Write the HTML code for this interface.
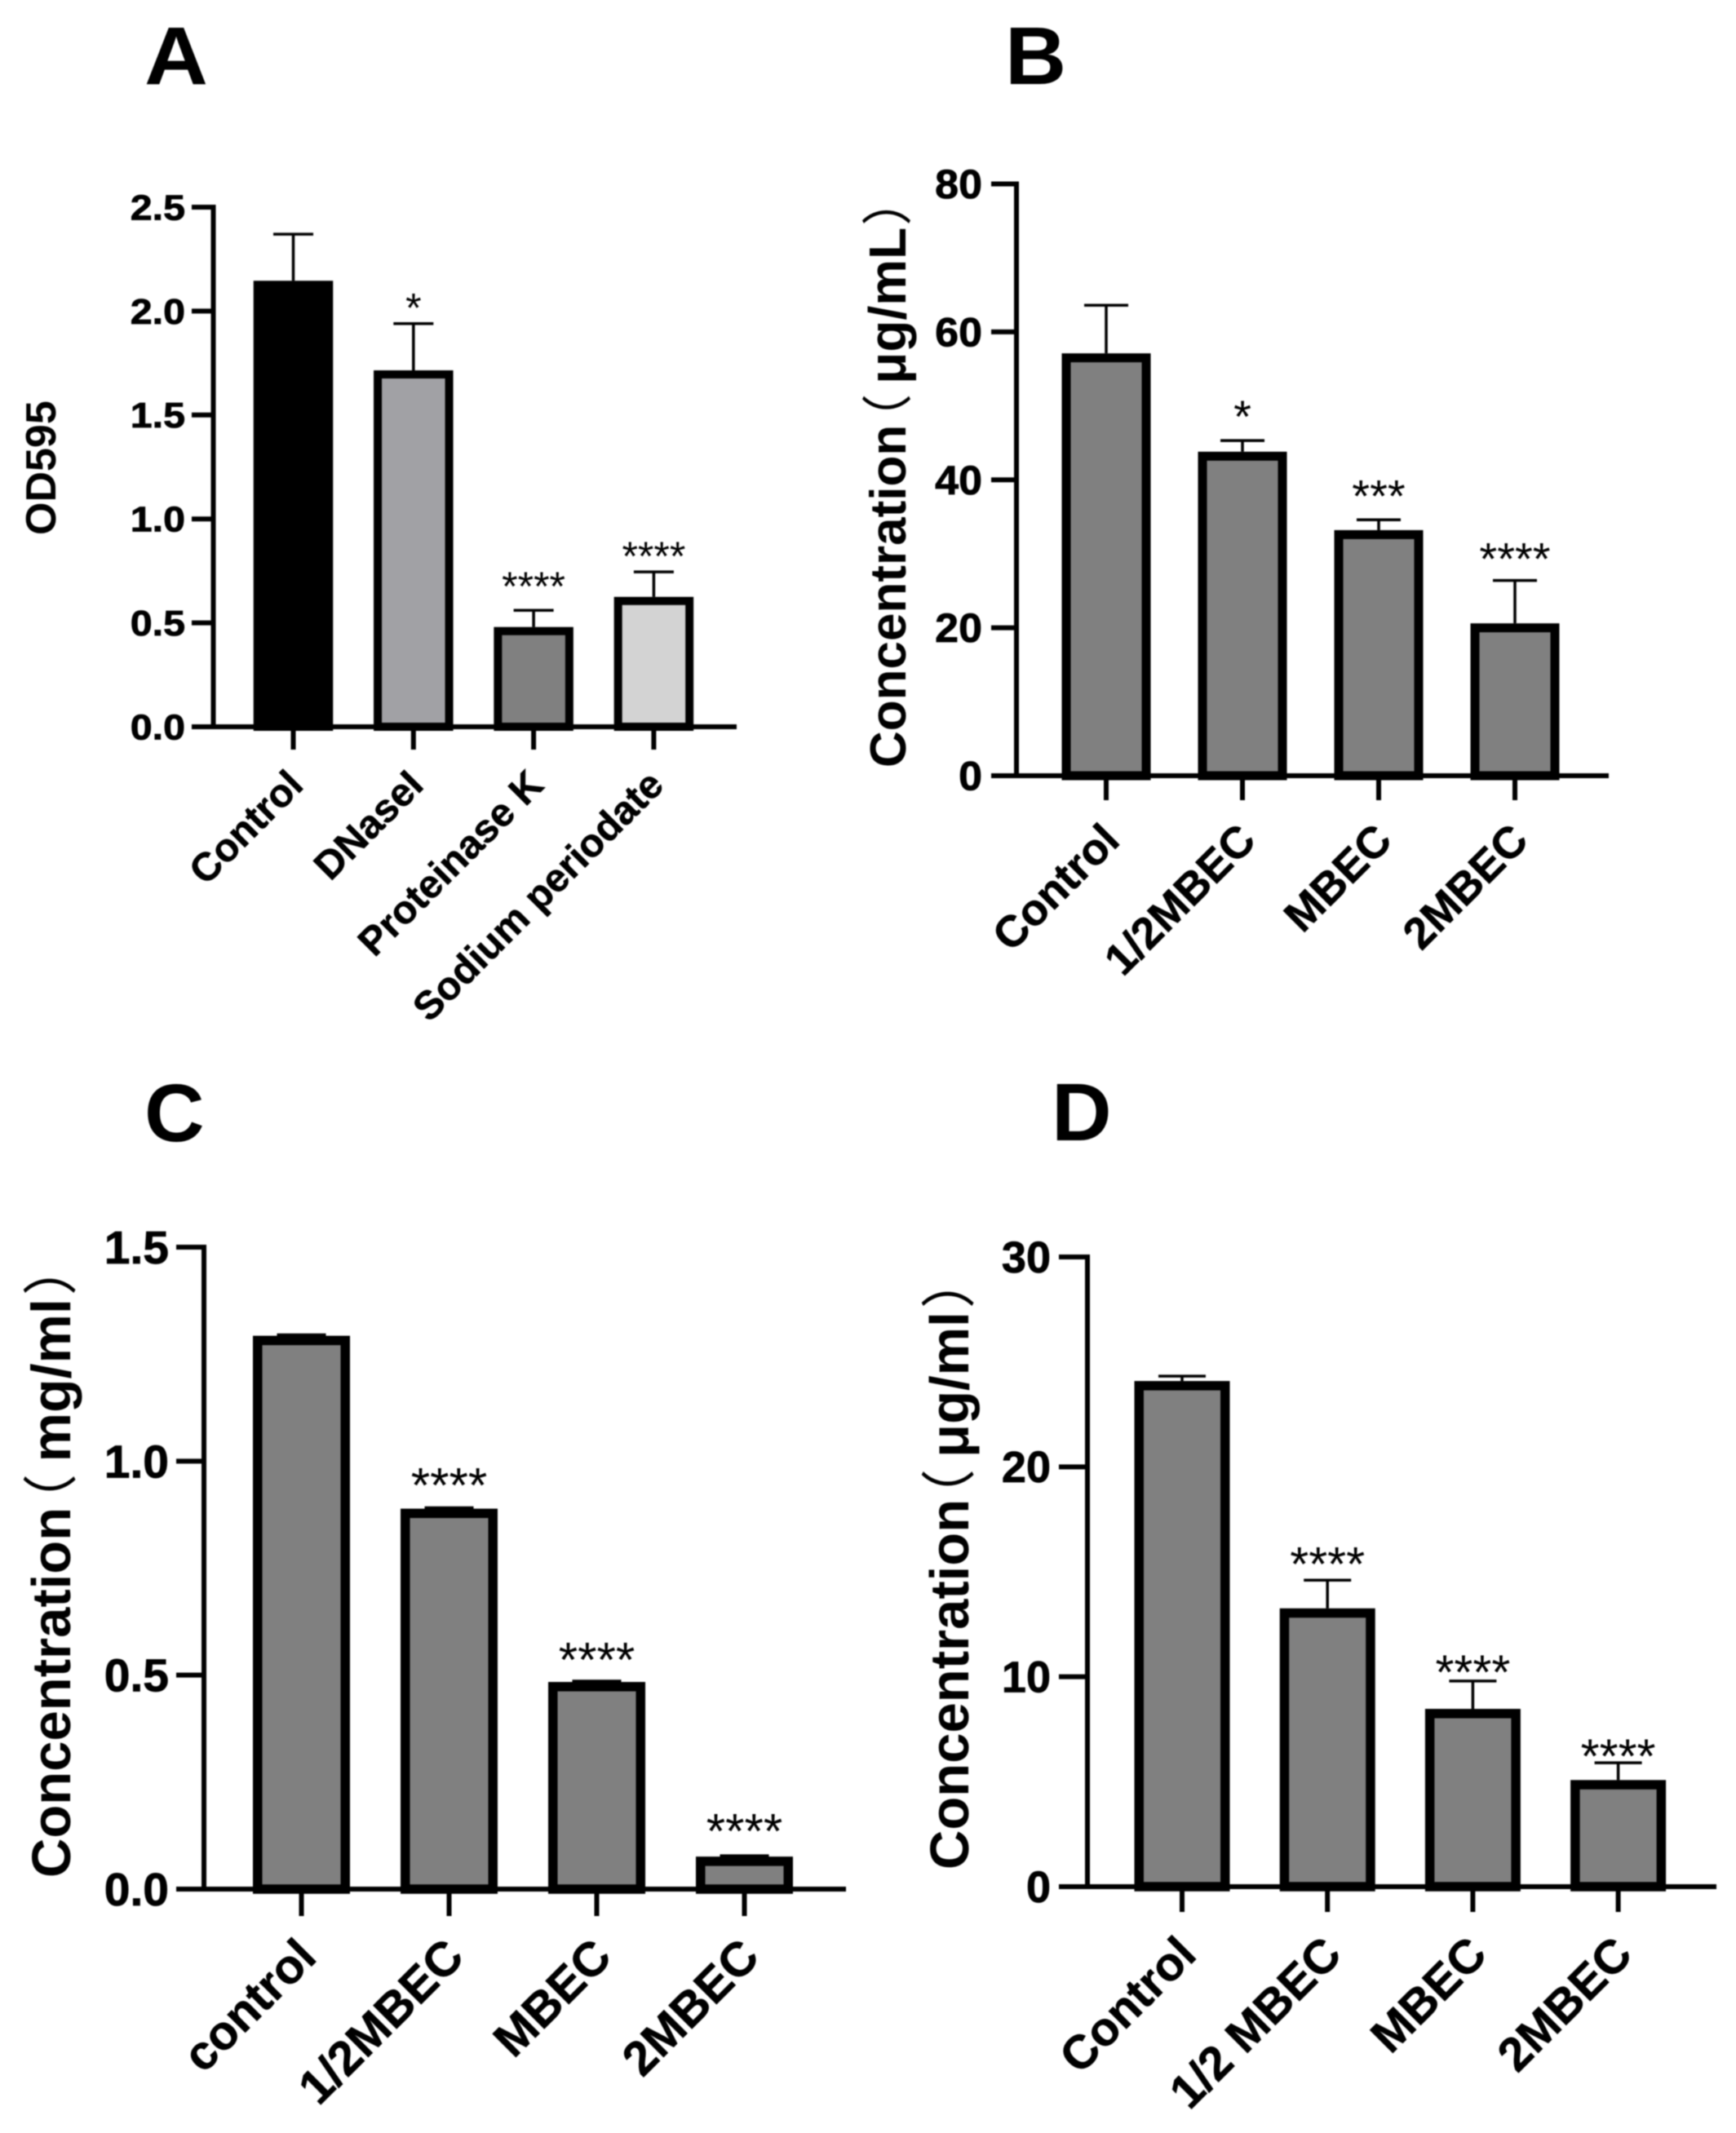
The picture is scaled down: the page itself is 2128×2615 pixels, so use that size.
<!DOCTYPE html>
<html lang="en">
<head>
<meta charset="utf-8">
<title>Four-panel bar charts</title>
<style>
html,body{margin:0;padding:0;background:#fff;}
svg{display:block;filter:blur(0.7px);}
text{font-family:"Liberation Sans","Noto Sans CJK SC",sans-serif;fill:#000;}
.letter{font-weight:700;font-size:100px;}
.ylab{font-weight:700;}
.paren{font-family:"Noto Sans CJK SC",sans-serif;font-weight:400;}
</style>
</head>
<body>
<svg id="figure" xmlns="http://www.w3.org/2000/svg" width="2128" height="2615" viewBox="0 0 2128 2615">
<rect x="0" y="0" width="2128" height="2615" fill="#fff"/>
<text class="letter" transform="translate(177,103) scale(1.08,1)">A</text>
<text class="letter" transform="translate(1232,103) scale(1.04,1)">B</text>
<text class="letter" transform="translate(177,1399) scale(1.02,1)">C</text>
<text class="letter" transform="translate(1289,1398) scale(1.02,1)">D</text>
<text class="ylab" font-size="52" transform="translate(68,656) rotate(-90)">OD595</text>
<text class="ylab" font-size="62" transform="translate(1110,941) rotate(-90)">Concentration<tspan class="paren" dx="-24">（</tspan><tspan dx="12" font-size="64">μg/mL</tspan><tspan class="paren" dx="2">）</tspan></text>
<text class="ylab" font-size="67" transform="translate(86,2302) rotate(-90)">Concentration<tspan class="paren" dx="-26">（</tspan><tspan dx="14.5" font-size="68">mg/ml</tspan><tspan class="paren" dx="4">）</tspan></text>
<text class="ylab" font-size="67" transform="translate(1187,2292) rotate(-90)">Concentration<tspan class="paren" dx="-30">（</tspan><tspan dx="14">μg/ml</tspan><tspan class="paren" dx="4">）</tspan></text>
</svg>
<script>
// Panel A data
const aCategories = ["Control", "DNaseI", "Proteinase K", "Sodium periodate"];
const aValues = [2.146, 1.715, 0.48, 0.625];
const aErrors = [0.224, 0.225, 0.08, 0.12];
const aStars = ["", "*", "****", "****"];
const aStarLevels = [0, 2.04, 0.7, 0.845];
const aFills = ["#000000", "#a1a1a5", "#808080", "#d3d3d3"];
const aTickValues = [0, 0.5, 1, 1.5, 2, 2.5];
const aTickLabels = ["0.0", "0.5", "1.0", "1.5", "2.0", "2.5"];

// Panel B data
const bCategories = ["Control", "1/2MBEC", "MBEC", "2MBEC"];
const bValues = [57.1, 43.8, 33.2, 20.6];
const bErrors = [6.5, 1.5, 1.4, 5.8];
const bStars = ["", "*", "***", "****"];
const bStarLevels = [0, 49.3, 38.6, 30.1];
const bFills = ["#808080", "#808080", "#808080", "#808080"];
const bTickValues = [0, 20, 40, 60, 80];
const bTickLabels = ["0", "20", "40", "60", "80"];

// Panel C data
const cCategories = ["control", "1/2MBEC", "MBEC", "2MBEC"];
const cValues = [1.293, 0.889, 0.484, 0.076];
const cErrors = [0.002, 0.002, 0.002, 0.002];
const cStars = ["", "****", "****", "****"];
const cStarLevels = [0, 0.958, 0.55, 0.15];
const cFills = ["#808080", "#808080", "#808080", "#808080"];
const cTickValues = [0, 0.5, 1, 1.5];
const cTickLabels = ["0.0", "0.5", "1.0", "1.5"];

// Panel D data
const dCategories = ["Control", "1/2 MBEC", "MBEC", "2MBEC"];
const dValues = [24.09, 13.26, 8.47, 5.08];
const dErrors = [0.23, 1.34, 1.33, 0.82];
const dStars = ["", "****", "****", "****"];
const dStarLevels = [0, 15.65, 10.5, 6.5];
const dFills = ["#808080", "#808080", "#808080", "#808080"];
const dTickValues = [0, 10, 20, 30];
const dTickLabels = ["0", "10", "20", "30"];

const NS = "http://www.w3.org/2000/svg";
const fig = document.getElementById("figure");

function mk(parent, tag, attrs) {
  const el = document.createElementNS(NS, tag);
  for (const k in attrs) el.setAttribute(k, attrs[k]);
  parent.appendChild(el);
  return el;
}

function drawPanel(id, d, g) {
  const yScale = v => g.y0 - (v / g.yMax) * (g.y0 - g.yTop);
  const xScale = i => g.cx0 + i * g.step;

  const panel = mk(fig, "g", {});
  
  

  // bars, error bars, stars
  d.values.forEach((v, i) => {
    const cx = xScale(i);
    const top = yScale(v);
    const errTop = yScale(v + d.errors[i]);

    const errStem = mk(panel, "line", {x1: cx, x2: cx, y1: top, y2: errTop, stroke: "#000", "stroke-width": g.err});
    
    

    const errCap = mk(panel, "line", {x1: cx - g.cap / 2, x2: cx + g.cap / 2, y1: errTop, y2: errTop, stroke: "#000", "stroke-width": g.err});
    
    

    const bar = mk(panel, "rect", {
      x: cx - g.barW / 2 + g.sw / 2,
      y: top + g.sw / 2,
      width: g.barW - g.sw,
      height: Math.max(0, g.y0 - top - g.sw / 2),
      fill: d.fills[i], stroke: "#000", "stroke-width": g.sw
    });
    
    

    if (d.stars[i]) {
      const star = mk(panel, "text", {
        x: cx, y: yScale(d.starLevels[i]) + g.starFs * 0.47,
        "font-size": g.starFs, "text-anchor": "middle"
      });
      star.textContent = d.stars[i];
      
      
    }
  });

  // y axis line
  const yAxis = mk(panel, "line", {x1: g.ax, x2: g.ax, y1: g.yTop - g.axW / 2, y2: g.y0 + g.axW / 2, stroke: "#000", "stroke-width": g.axW});
  
  

  // x axis line
  const xAxis = mk(panel, "line", {x1: g.tickL, x2: g.right, y1: g.y0, y2: g.y0, stroke: "#000", "stroke-width": g.axW});
  
  

  // y ticks
  d.tickValues.forEach((t, i) => {
    const y = yScale(t);
    const tick = mk(panel, "line", {x1: g.tickL, x2: g.ax, y1: y, y2: y, stroke: "#000", "stroke-width": g.axW});
    
    

    const lab = mk(panel, "text", {
      "font-size": g.tickFs, "font-weight": 700, "text-anchor": "end", stroke: "#000", "stroke-width": 0.8,
      transform: "translate(" + g.tickRight + "," + (y + g.tickFs * 0.35) + ") scale(" + g.tickSx + ",1)"
    });
    lab.textContent = d.tickLabels[i];
    
    
  });

  // x ticks and labels
  d.categories.forEach((c, i) => {
    const cx = xScale(i);
    const tick = mk(panel, "line", {x1: cx, x2: cx, y1: g.y0, y2: g.tickEnd, stroke: "#000", "stroke-width": g.axW});
    
    

    const lab = mk(panel, "text", {
      "font-size": g.catFs, "font-weight": 700, "text-anchor": "end", stroke: "#000", "stroke-width": 0.6,
      transform: "translate(" + (cx + g.catDx) + "," + (g.tickEnd + g.catDy) + ") rotate(" + g.catAngle + ")"
    });
    lab.textContent = c;
    
    
  });
}

drawPanel("a",
  {categories: aCategories, values: aValues, errors: aErrors, stars: aStars, starLevels: aStarLevels, fills: aFills, tickValues: aTickValues, tickLabels: aTickLabels},
  {ax: 261.5, y0: 891, yTop: 254, yMax: 2.5, tickL: 235, right: 903, tickEnd: 919, cx0: 359.5, step: 147.3, barW: 97.5, sw: 10, cap: 49, err: 3.5, axW: 6, starFs: 50, tickFs: 44, tickSx: 1.1, tickRight: 227, catFs: 48.5, catDx: 14.5, catDy: 46, catAngle: -45});

drawPanel("b",
  {categories: bCategories, values: bValues, errors: bErrors, stars: bStars, starLevels: bStarLevels, fills: bFills, tickValues: bTickValues, tickLabels: bTickLabels},
  {ax: 1246, y0: 951, yTop: 225.5, yMax: 80, tickL: 1215, right: 1972, tickEnd: 981, cx0: 1356, step: 167, barW: 109, sw: 11, cap: 54, err: 3.5, axW: 6, starFs: 56, tickFs: 50, tickSx: 1.04, tickRight: 1204, catFs: 54, catDx: 19, catDy: 52, catAngle: -45});

drawPanel("c",
  {categories: cCategories, values: cValues, errors: cErrors, stars: cStars, starLevels: cStarLevels, fills: cFills, tickValues: cTickValues, tickLabels: cTickLabels},
  {ax: 250, y0: 2316, yTop: 1529, yMax: 1.5, tickL: 216, right: 1037, tickEnd: 2349, cx0: 369.5, step: 181, barW: 119, sw: 11.5, cap: 60, err: 3.5, axW: 6, starFs: 60, tickFs: 57, tickSx: 1, tickRight: 207, catFs: 59, catDx: 21, catDy: 53, catAngle: -45});

drawPanel("d",
  {categories: dCategories, values: dValues, errors: dErrors, stars: dStars, starLevels: dStarLevels, fills: dFills, tickValues: dTickValues, tickLabels: dTickLabels},
  {ax: 1333, y0: 2313, yTop: 1541, yMax: 30, tickL: 1298, right: 2104, tickEnd: 2344, cx0: 1449, step: 178.2, barW: 117, sw: 11.5, cap: 58, err: 3.5, axW: 6, starFs: 59, tickFs: 54, tickSx: 1, tickRight: 1288, catFs: 58, catDx: 20, catDy: 55, catAngle: -45});
</script>
</body>
</html>
